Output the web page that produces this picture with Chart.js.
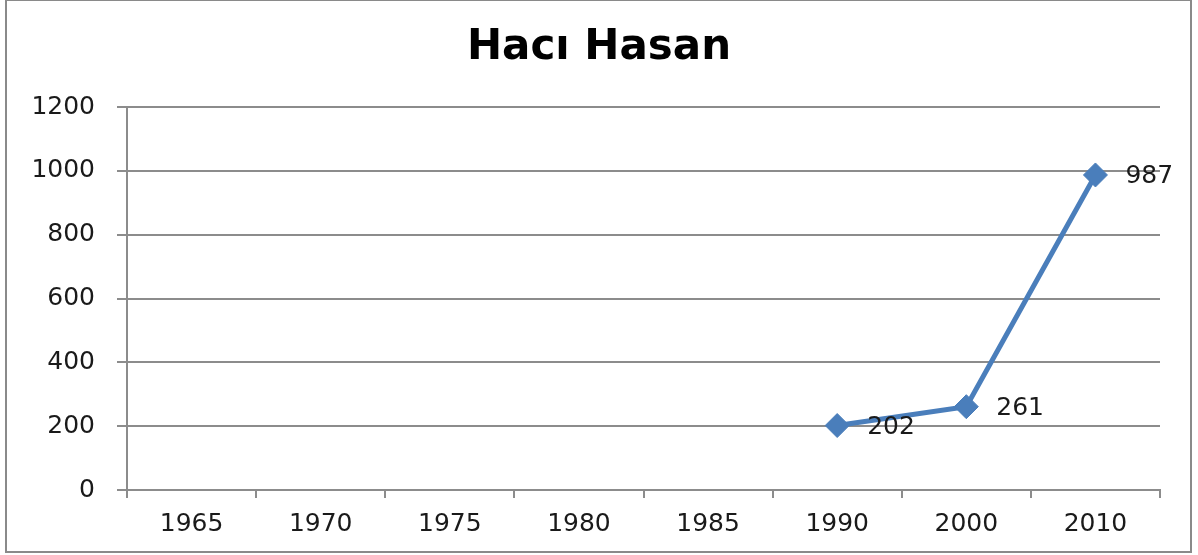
<!DOCTYPE html>
<html>
<head>
<meta charset="utf-8">
<script src="https://cdn.jsdelivr.net/npm/chart.js@4"></script>
<style>
    html, body { margin: 0; padding: 0; background: #fff; }
    #wrap { position: relative; width: 1198px; height: 555px; }
</style>
</head>
<body>
<div id="wrap"><canvas id="chart" width="1198" height="555"></canvas></div>
<script>
// chart data
const years = ['1965', '1970', '1975', '1980', '1985', '1990', '2000', '2010'];
const population = [null, null, null, null, null, 202, 261, 987];
const yTicks = [0, 200, 400, 600, 800, 1000, 1200];
const chartTitle = 'Hacı Hasan';

const blue = '#4A7EBB';
const gridGray = '#8c8c8c';
const textColor = '#1a1a1a';

// outer frame of the chart
const framePlugin = {
    id: 'frame',
    beforeDraw(chart) {
        const ctx = chart.ctx;
        ctx.save();
        ctx.fillStyle = '#fff';
        ctx.fillRect(0, 0, chart.width, chart.height);
        ctx.strokeStyle = '#8a8a8a';
        ctx.lineWidth = 2;
        ctx.strokeRect(6, 0, 1185, 552);
        ctx.restore();
    }
};

// value labels right of each point
const valueLabels = {
    id: 'valueLabels',
    afterDatasetsDraw(chart) {
        const ctx = chart.ctx;
        const meta = chart.getDatasetMeta(0);
        ctx.save();
        ctx.font = '25px "DejaVu Sans"';
        ctx.fillStyle = textColor;
        ctx.textAlign = 'left';
        ctx.textBaseline = 'middle';
        meta.data.forEach((pt, i) => {
            const v = population[i];
            if (v == null) return;
            ctx.fillText(String(v), pt.x + 30, pt.y + 2);
        });
        ctx.restore();
    }
};

new Chart(document.getElementById('chart').getContext('2d'), {
    type: 'line',
    data: {
        labels: years,
        datasets: [{
            data: population,
            borderColor: blue,
            backgroundColor: blue,
            borderWidth: 5,
            pointStyle: 'rectRot',
            pointRadius: 12,
            pointHoverRadius: 12,
            pointBorderWidth: 1,
            spanGaps: false,
            tension: 0
        }]
    },
    options: {
        responsive: false,
        animation: false,
        layout: { padding: 0 },
        plugins: {
            legend: { display: false },
            tooltip: { enabled: false },
            title: {
                display: true,
                text: chartTitle,
                color: '#000',
                font: { family: '"DejaVu Sans"', size: 42, weight: 'bold', lineHeight: 1.2 },
                padding: { top: 23, bottom: 33.6 }
            }
        },
        scales: {
            x: {
                offset: true,
                grid: {
                    offset: true,
                    drawOnChartArea: false,
                    drawTicks: true,
                    tickLength: 8,
                    color: gridGray,
                    lineWidth: 2
                },
                border: { display: true, color: gridGray, width: 2 },
                ticks: {
                    color: textColor,
                    font: { family: '"DejaVu Sans"', size: 25 },
                    padding: 11,
                    maxRotation: 0,
                    autoSkip: false
                },
                afterFit(scale) { scale.height = 65; }
            },
            y: {
                min: 0,
                max: 1200,
                afterBuildTicks(scale) { scale.ticks = yTicks.map(v => ({ value: v })); },
                grid: {
                    color: gridGray,
                    lineWidth: 2,
                    drawTicks: true,
                    tickLength: 10
                },
                border: { display: true, color: gridGray, width: 2 },
                ticks: {
                    color: textColor,
                    font: { family: '"DejaVu Sans"', size: 25 },
                    padding: 22,
                    callback: (v) => String(v)
                },
                afterFit(scale) { scale.width = 127; }
            },
            // empty right margin so the title centres on the whole frame
            yRight: {
                position: 'right',
                min: 0,
                max: 1200,
                grid: { display: false },
                border: { display: false },
                ticks: { display: false },
                afterFit(scale) { scale.width = 38; }
            }
        }
    },
    plugins: [framePlugin, valueLabels]
});
</script>
</body>
</html>
